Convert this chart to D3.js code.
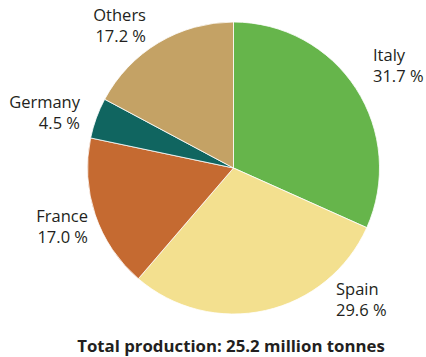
<!DOCTYPE html>
<html>
<head>
<meta charset="utf-8">
<script src="https://cdn.jsdelivr.net/npm/d3@7/dist/d3.min.js"></script>
<style>
  html, body { margin: 0; padding: 0; background: #fff; }
  svg { display: block; }
  text { font-family: "Open Sans", "Noto Sans", sans-serif; fill: #231f20; }
</style>
</head>
<body>
<svg id="chart" width="426" height="357"></svg>
<script>
// Production share by country (percent)
const countries = ["Italy", "Spain", "France", "Germany", "Others"];
const shares = [31.7, 29.6, 17.0, 4.5, 17.2];
const colors = ["#66b54b", "#f3e08f", "#c56a31", "#106560", "#c4a265"];
const title = "Total production: 25.2 million tonnes";

// Label placement: [x, y of first line, text-anchor]
const labelLayout = [
  [373, 61, "start"],
  [336, 295, "start"],
  [88, 222, "end"],
  [80, 108, "end"],
  [146, 21, "end"]
];

const svg = d3.select("#chart");
const cx = 233.5, cy = 168, radius = 146;

const data = countries.map((c, i) => ({ name: c, value: shares[i], color: colors[i] }));

const pie = d3.pie().sort(null).value(d => d.value);
const arc = d3.arc().innerRadius(0).outerRadius(radius);

const g = svg.append("g").attr("transform", `translate(${cx},${cy})`);

g.selectAll("path")
  .data(pie(data))
  .join("path")
  .attr("d", arc)
  .attr("fill", d => d.data.color)
  .attr("stroke", "#fff")
  .attr("stroke-width", 0.8);

const labels = svg.append("g");
data.forEach((d, i) => {
  const [x, y, anchor] = labelLayout[i];
  const t = labels.append("text")
    .attr("x", x).attr("y", y)
    .attr("text-anchor", anchor)
    .style("font-size", "16.5px");
  t.append("tspan").attr("x", x).text(d.name);
  t.append("tspan").attr("x", x).attr("dy", 21).text(d3.format(".1f")(d.value) + " %");
});

svg.append("text")
  .attr("x", 231).attr("y", 352)
  .attr("text-anchor", "middle")
  .style("font-size", "16.8px")
  .style("font-weight", "bold")
  .text(title);
</script>
</body>
</html>
